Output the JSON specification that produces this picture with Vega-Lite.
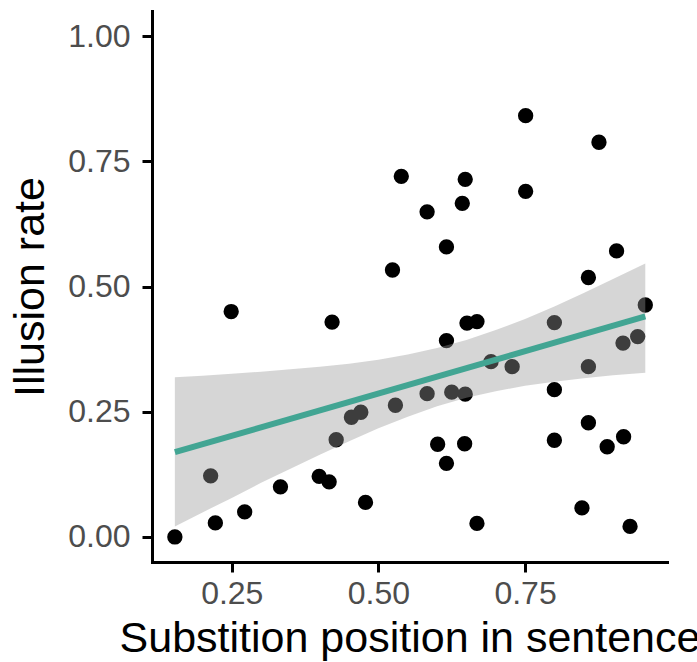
{
  "$schema": "https://vega.github.io/schema/vega-lite/v6.json",
  "width": 515,
  "height": 551,
  "autosize": {"type": "none"},
  "padding": {"left": 152, "top": 11, "right": 30, "bottom": 100},
  "background": "white",
  "config": {
    "view": {"stroke": null},
    "font": "Liberation Sans",
    "axis": {
      "grid": false,
      "domainColor": "black",
      "domainWidth": 3,
      "domainCap": "square",
      "tickColor": "black",
      "tickWidth": 3,
      "tickSize": 10,
      "labelFont": "Liberation Sans",
      "labelFontSize": 32,
      "labelColor": "#4d4d4d",
      "labelFlush": false,
      "labelOverlap": false,
      "titleFont": "Liberation Sans",
      "titleFontSize": 43,
      "titleFontWeight": "normal",
      "titleColor": "black"
    }
  },
  "datasets": {
    "pts": [
      {"x": 0.153, "y": 0.000},
      {"x": 0.214, "y": 0.122},
      {"x": 0.222, "y": 0.028},
      {"x": 0.249, "y": 0.450},
      {"x": 0.272, "y": 0.050},
      {"x": 0.333, "y": 0.100},
      {"x": 0.399, "y": 0.121},
      {"x": 0.416, "y": 0.110},
      {"x": 0.421, "y": 0.429},
      {"x": 0.428, "y": 0.194},
      {"x": 0.454, "y": 0.239},
      {"x": 0.470, "y": 0.249},
      {"x": 0.478, "y": 0.069},
      {"x": 0.524, "y": 0.533},
      {"x": 0.529, "y": 0.263},
      {"x": 0.539, "y": 0.720},
      {"x": 0.583, "y": 0.649},
      {"x": 0.583, "y": 0.286},
      {"x": 0.601, "y": 0.185},
      {"x": 0.616, "y": 0.579},
      {"x": 0.616, "y": 0.392},
      {"x": 0.616, "y": 0.147},
      {"x": 0.625, "y": 0.289},
      {"x": 0.648, "y": 0.285},
      {"x": 0.643, "y": 0.666},
      {"x": 0.648, "y": 0.714},
      {"x": 0.647, "y": 0.186},
      {"x": 0.651, "y": 0.427},
      {"x": 0.668, "y": 0.430},
      {"x": 0.668, "y": 0.027},
      {"x": 0.692, "y": 0.350},
      {"x": 0.728, "y": 0.340},
      {"x": 0.751, "y": 0.841},
      {"x": 0.751, "y": 0.690},
      {"x": 0.800, "y": 0.428},
      {"x": 0.800, "y": 0.294},
      {"x": 0.800, "y": 0.193},
      {"x": 0.847, "y": 0.058},
      {"x": 0.858, "y": 0.518},
      {"x": 0.858, "y": 0.340},
      {"x": 0.858, "y": 0.228},
      {"x": 0.876, "y": 0.788},
      {"x": 0.890, "y": 0.180},
      {"x": 0.906, "y": 0.571},
      {"x": 0.918, "y": 0.200},
      {"x": 0.917, "y": 0.387},
      {"x": 0.929, "y": 0.021},
      {"x": 0.942, "y": 0.400},
      {"x": 0.955, "y": 0.463}
    ],
    "band": [
      {"x": 0.153, "lo": 0.021, "hi": 0.319},
      {"x": 0.2, "lo": 0.049, "hi": 0.322},
      {"x": 0.25, "lo": 0.078, "hi": 0.326},
      {"x": 0.3, "lo": 0.108, "hi": 0.330},
      {"x": 0.35, "lo": 0.136, "hi": 0.335},
      {"x": 0.4, "lo": 0.164, "hi": 0.340},
      {"x": 0.45, "lo": 0.191, "hi": 0.346},
      {"x": 0.5, "lo": 0.217, "hi": 0.354},
      {"x": 0.55, "lo": 0.240, "hi": 0.364},
      {"x": 0.6, "lo": 0.261, "hi": 0.377},
      {"x": 0.65, "lo": 0.278, "hi": 0.393},
      {"x": 0.7, "lo": 0.291, "hi": 0.413},
      {"x": 0.75, "lo": 0.302, "hi": 0.435},
      {"x": 0.8, "lo": 0.310, "hi": 0.460},
      {"x": 0.85, "lo": 0.317, "hi": 0.487},
      {"x": 0.9, "lo": 0.323, "hi": 0.515},
      {"x": 0.955, "lo": 0.328, "hi": 0.546}
    ]
  },
  "encoding": {
    "x": {
      "field": "x",
      "type": "quantitative",
      "scale": {"domain": [0.114, 0.992], "nice": false, "zero": false},
      "axis": {
        "title": "Substition position in sentence",
        "values": [0.25, 0.5, 0.75],
        "format": ".2f",
        "labelPadding": 6,
        "titlePadding": 8
      }
    },
    "y": {
      "field": "y",
      "type": "quantitative",
      "scale": {"domain": [-0.05, 1.05], "nice": false, "zero": false},
      "axis": {
        "title": "Illusion rate",
        "values": [0, 0.25, 0.5, 0.75, 1],
        "format": ".2f",
        "labelPadding": 12,
        "titlePadding": 15
      }
    }
  },
  "layer": [
    {
      "data": {"name": "pts"},
      "mark": {"type": "circle", "size": 235, "color": "black", "opacity": 1}
    },
    {
      "data": {"name": "band"},
      "mark": {"type": "area", "color": "#999999", "opacity": 0.4},
      "encoding": {
        "y": {"field": "lo", "type": "quantitative", "title": "Illusion rate"},
        "y2": {"field": "hi"}
      }
    },
    {
      "data": {"name": "pts"},
      "transform": [{"regression": "y", "on": "x"}],
      "mark": {"type": "line", "color": "#42a593", "strokeWidth": 6}
    }
  ]
}
